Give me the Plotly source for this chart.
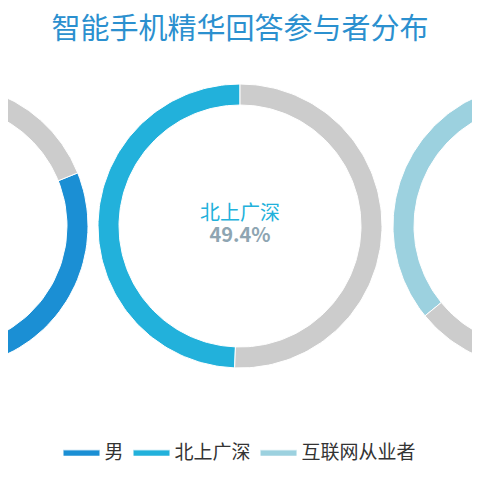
import numpy as np
import plotly.graph_objects as go

# share of answerers (%) per group
groups = ['男', '北上广深', '互联网从业者']
shares = [81.1, 49.4, 35.9]
colors = ['#1b8fd4', '#22b1db', '#9cd1df']
rest_color = '#cccccc'

# page has an 8px body margin, so everything is shifted up/left by 8
centers = [-62, 232, 527]
cy = 262
r_out, r_in = 142, 121


def ring(cx, start, stop):
    # angles in fraction of a turn, counterclockwise from 12 o'clock
    t = np.linspace(start, stop, 120) * 2 * np.pi
    xo = cx - r_out * np.sin(t)
    yo = cy + r_out * np.cos(t)
    xi = cx - r_in * np.sin(t[::-1])
    yi = cy + r_in * np.cos(t[::-1])
    return np.concatenate([xo, xi, xo[:1]]), np.concatenate([yo, yi, yo[:1]])


fig = go.Figure()
for name, share, col, cx in zip(groups, shares, colors, centers):
    p = share / 100
    x, y = ring(cx, 0, p)
    fig.add_trace(go.Scatter(x=x, y=y, fill='toself', fillcolor=col, mode='lines',
                             line=dict(color='white', width=1), name=name, hoverinfo='name'))
    x, y = ring(cx, p, 1)
    fig.add_trace(go.Scatter(x=x, y=y, fill='toself', fillcolor=rest_color, mode='lines',
                             line=dict(color='white', width=1), showlegend=False, hoverinfo='skip'))
    fig.add_trace(go.Scatter(x=[cx], y=[cy + 11], mode='text', text=[name], showlegend=False,
                             textfont=dict(size=20, color=col), hoverinfo='skip'))
    fig.add_trace(go.Scatter(x=[cx], y=[cy - 11], mode='text', text=['<b>%.1f%%</b>' % share],
                             showlegend=False, textfont=dict(size=20, color='#8ea5b2'),
                             hoverinfo='skip'))

fig.update_layout(
    width=480, height=480,
    margin=dict(l=0, r=0, t=0, b=0),
    paper_bgcolor='white', plot_bgcolor='white',
    font=dict(family='Noto Sans CJK SC, sans-serif'),
    title=dict(text='智能手机精华回答参与者分布', x=232 / 480, xanchor='center',
               y=1 - 21 / 480, yanchor='middle',
               font=dict(size=29, color='#2b90cf')),
    xaxis=dict(range=[0, 480], visible=False, fixedrange=True),
    yaxis=dict(range=[0, 480], visible=False, fixedrange=True),
    legend=dict(orientation='h', x=232 / 480, xanchor='center', y=36 / 480, yanchor='middle',
                font=dict(size=19, color='#333333'), itemwidth=36),
)
fig.write_html("out.html")
